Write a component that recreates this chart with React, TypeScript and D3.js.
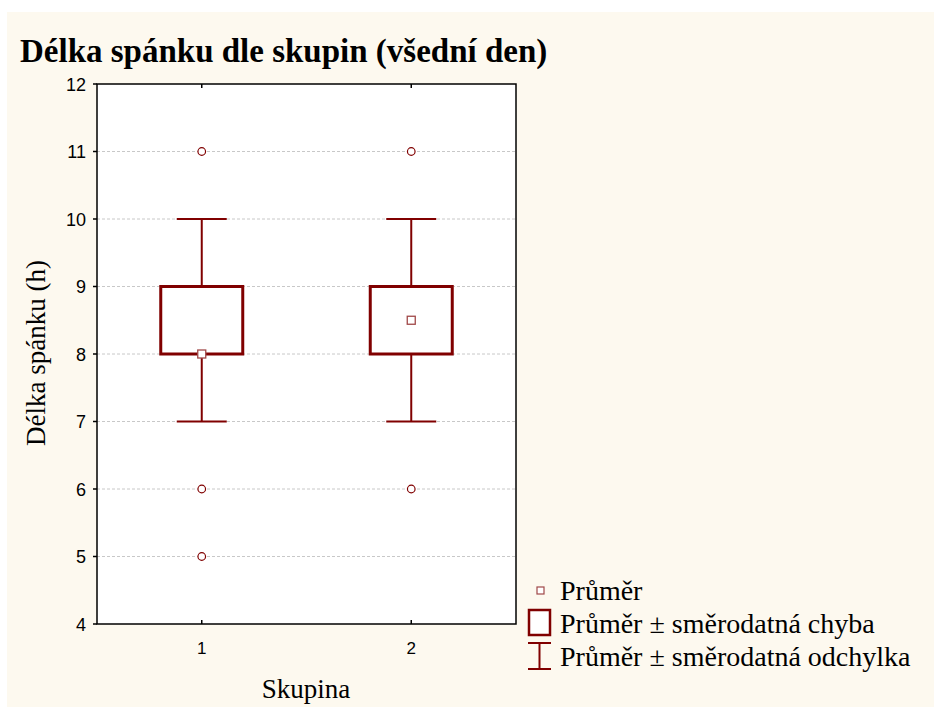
import React from 'react';
import * as d3 from 'd3';

const groups = [1, 2];
const means = [8, 8.5];
const seLow = [8, 8];
const seHigh = [9, 9];
const sdLow = [7, 7];
const sdHigh = [10, 10];
const outliers = [[11, 6, 5], [11, 6]];
const yTicks = [4, 5, 6, 7, 8, 9, 10, 11, 12];
const legendLabels = ['Průměr', 'Průměr ± směrodatná chyba', 'Průměr ± směrodatná odchylka'];

const RED = '#800000';
const SERIF = 'Liberation Serif, Times New Roman, serif';
const SANS = 'Liberation Sans, Arial, sans-serif';

const App = () => {
    const left = 97, right = 516, top = 84, bottom = 624;
    const x = d3.scaleLinear().domain([0.5, 2.5]).range([left, right]);
    const y = d3.scaleLinear().domain([4, 12]).range([bottom, top]);
    const boxW = 82;
    const capW = 50;

    return (
        <svg width={934} height={707} style={{ position: 'absolute', left: 0, top: 0 }}>
            <rect x={0} y={0} width={934} height={707} fill="#fff" />
            <rect x={7} y={12} width={927} height={695} fill="#fdf9ef" />
            <text x={20} y={62} fontFamily={SERIF} fontWeight="bold" fontSize={33} fill="#000">
                Délka spánku dle skupin (všední den)
            </text>
            <rect x={left} y={top} width={right - left} height={bottom - top} fill="#fff" />
            {yTicks.slice(1, -1).map(t => (
                <line key={'g' + t} x1={left} x2={right} y1={y(t)} y2={y(t)} stroke="#c8c8c8" strokeWidth={1} strokeDasharray="3,2" />
            ))}
            {groups.map((g, i) => (
                <g key={g}>
                    <line x1={x(g)} x2={x(g)} y1={y(sdLow[i])} y2={y(sdHigh[i])} stroke={RED} strokeWidth={2} />
                    <line x1={x(g) - capW / 2} x2={x(g) + capW / 2} y1={y(sdLow[i])} y2={y(sdLow[i])} stroke={RED} strokeWidth={2} />
                    <line x1={x(g) - capW / 2} x2={x(g) + capW / 2} y1={y(sdHigh[i])} y2={y(sdHigh[i])} stroke={RED} strokeWidth={2} />
                    <rect x={x(g) - boxW / 2} y={y(seHigh[i])} width={boxW} height={y(seLow[i]) - y(seHigh[i])} fill="#fff" stroke={RED} strokeWidth={3} />
                    <rect x={x(g) - 4} y={y(means[i]) - 4} width={8} height={8} fill="#fff" stroke="#a04848" strokeWidth={1.3} />
                    {outliers[i].map(v => (
                        <circle key={v} cx={x(g)} cy={y(v)} r={3.8} fill="#fff" stroke={RED} strokeWidth={1.2} />
                    ))}
                </g>
            ))}
            <rect x={left} y={top} width={right - left} height={bottom - top} fill="none" stroke="#000" strokeWidth={1.5} />
            {yTicks.map(t => (
                <g key={'t' + t}>
                    <line x1={left - 4} x2={left} y1={y(t)} y2={y(t)} stroke="#000" strokeWidth={1.5} />
                    <text x={86} y={y(t) + 6.5} textAnchor="end" fontFamily={SANS} fontSize={18} fill="#000">{t}</text>
                </g>
            ))}
            {groups.map(g => (
                <g key={'x' + g}>
                    <line x1={x(g)} x2={x(g)} y1={bottom} y2={bottom - 4} stroke="#000" strokeWidth={1.5} />
                    <line x1={x(g)} x2={x(g)} y1={top} y2={top + 4} stroke="#000" strokeWidth={1.5} />
                    <text x={x(g)} y={654} textAnchor="middle" fontFamily={SANS} fontSize={17} fill="#000">{g}</text>
                </g>
            ))}
            <text x={306} y={698} textAnchor="middle" fontFamily={SERIF} fontSize={27} fill="#000">Skupina</text>
            <text transform={`translate(45,353) rotate(-90)`} textAnchor="middle" fontFamily={SERIF} fontSize={27} fill="#000">Délka spánku (h)</text>
            {/* legend */}
            <rect x={537} y={587} width={7} height={7} fill="#fff" stroke="#a04848" strokeWidth={1.2} />
            <rect x={529} y={610} width={21} height={25} fill="#fff" stroke={RED} strokeWidth={2.5} />
            <line x1={528} x2={551} y1={643} y2={643} stroke={RED} strokeWidth={2} />
            <line x1={539.5} x2={539.5} y1={643} y2={669} stroke={RED} strokeWidth={2} />
            <line x1={528} x2={551} y1={669} y2={669} stroke={RED} strokeWidth={2} />
            {legendLabels.map((l, i) => (
                <text key={l} x={560} y={600 + i * 33} fontFamily={SERIF} fontSize={28} fill="#000">{l}</text>
            ))}
        </svg>
    );
};

export default App;
